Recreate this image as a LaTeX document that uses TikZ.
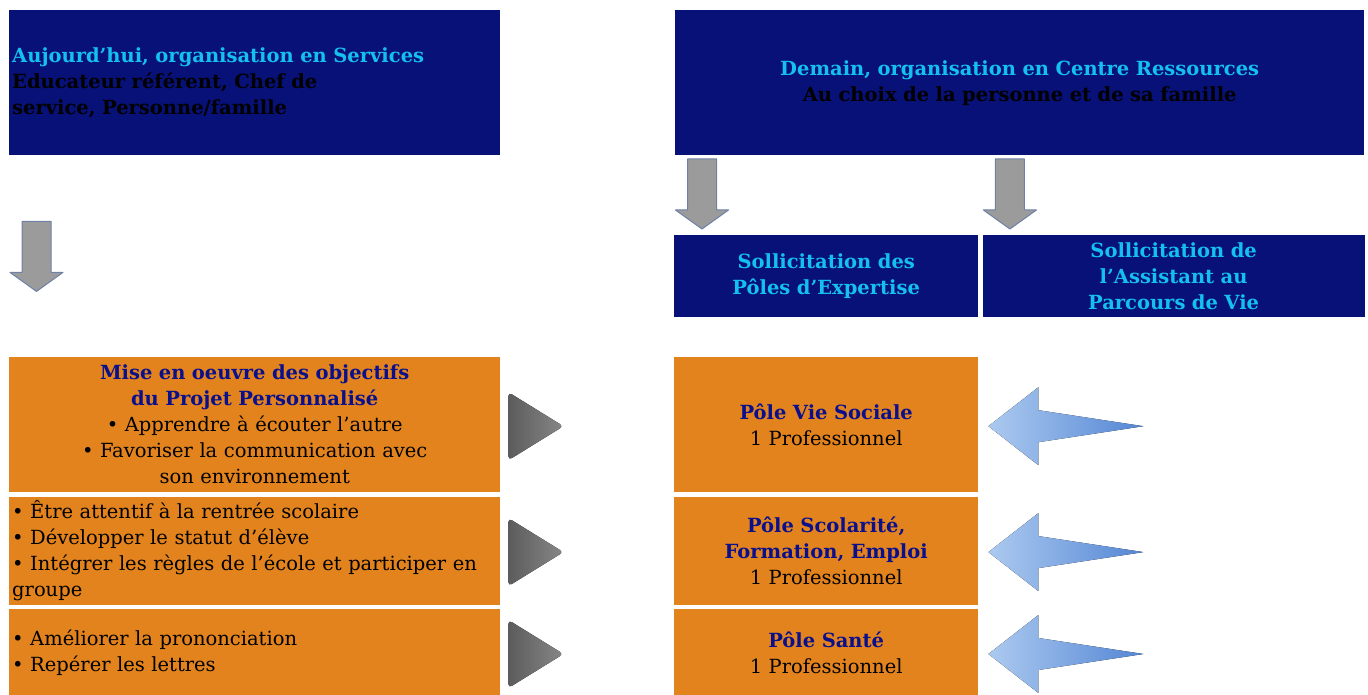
\documentclass[tikz,border=0pt]{standalone}
\usepackage{fontspec}
\setmainfont{DejaVu Serif}
\usetikzlibrary{positioning,calc}

\definecolor{navyblue}{RGB}{8,17,120}
\definecolor{titlecyan}{RGB}{20,192,242}
\definecolor{boxorange}{RGB}{226,131,30}
\definecolor{poleblue}{RGB}{10,16,140}
\definecolor{arrowgrey}{RGB}{155,155,155}
\definecolor{arrowedge}{RGB}{110,128,165}
\definecolor{tridark}{RGB}{92,92,92}
\definecolor{trilight}{RGB}{135,135,135}
\definecolor{lightblue}{RGB}{172,202,240}
\definecolor{midblue}{RGB}{84,134,212}

\begin{document}
\begin{tikzpicture}[x=1pt, y=-1pt,
    every node/.style={font=\fontsize{19.5}{26}\selectfont, inner xsep=3pt, inner ysep=0pt},
    navybox/.style={rectangle, fill=navyblue, anchor=north west, font=\fontsize{19.5}{26}\selectfont\bfseries},
    orangebox/.style={rectangle, fill=boxorange, anchor=north west},
    downarrow/.style={fill=arrowgrey, draw=arrowedge, line width=1pt, line join=round},
    playarrow/.style={left color=tridark, right color=trilight, rounded corners=4pt},
    backarrow/.style={left color=lightblue, right color=midblue}
]
\useasboundingbox (0,0) rectangle (1368,695);

% Header boxes
\node[navybox, text width=485pt, minimum height=145pt, align=left] (today) at (9,10)
    {{\color{titlecyan}Aujourd’hui, organisation en Services}\\Educateur référent, Chef de\\service, Personne/famille};
\node[navybox, text width=683pt, minimum height=145pt, align=center] (tomorrow) at (675,10)
    {{\color{titlecyan}Demain, organisation en Centre Ressources}\\Au choix de la personne et de sa famille};

\node[navybox, text width=298pt, minimum height=82pt, align=center, text=titlecyan] (askpoles) at (674,235)
    {Sollicitation des\\Pôles d’Expertise};
\node[navybox, text width=376pt, minimum height=82pt, align=center, text=titlecyan, right=4pt of askpoles] (askassist)
    {Sollicitation de\\l’Assistant au\\Parcours de Vie};

% Objectives (left column)
\node[orangebox, text width=485pt, minimum height=135pt, align=center] (goals1) at (9,357)
    {{\color{poleblue}\bfseries Mise en oeuvre des objectifs\\du Projet Personnalisé}\\• Apprendre à écouter l’autre\\• Favoriser la communication avec\\son environnement};
\node[orangebox, text width=485pt, minimum height=108pt, align=left, below=4pt of goals1] (goals2)
    {• Être attentif à la rentrée scolaire\\• Développer le statut d’élève\\• Intégrer les règles de l’école et participer en groupe};
\node[orangebox, text width=485pt, minimum height=87pt, align=left, below=4pt of goals2] (goals3)
    {• Améliorer la prononciation\\• Repérer les lettres};

% Poles (right column)
\node[orangebox, text width=298pt, minimum height=135pt, align=center] (pole1) at (674,357)
    {{\color{poleblue}\bfseries Pôle Vie Sociale}\\1 Professionnel};
\node[orangebox, text width=298pt, minimum height=108pt, align=center, below=4pt of pole1] (pole2)
    {{\color{poleblue}\bfseries Pôle Scolarité,\\Formation, Emploi}\\1 Professionnel};
\node[orangebox, text width=298pt, minimum height=87pt, align=center, below=4pt of pole2] (pole3)
    {{\color{poleblue}\bfseries Pôle Santé}\\1 Professionnel};

% Grey down arrows
\draw[downarrow] ($(today.south west)+(13,66)$) -- ++(29,0) -- ++(0,51) -- ++(12,0) -- ++(-26.5,19) -- ++(-26.5,-19) -- ++(12,0) -- cycle;
\draw[downarrow] ($(askpoles.north west)+(13.5,-76)$) -- ++(29,0) -- ++(0,51) -- ++(12,0) -- ++(-26.5,19) -- ++(-26.5,-19) -- ++(12,0) -- cycle;
\draw[downarrow] ($(askassist.north west)+(13,-76)$) -- ++(29,0) -- ++(0,51) -- ++(12,0) -- ++(-26.5,19) -- ++(-26.5,-19) -- ++(12,0) -- cycle;

% Triangles between columns
\fill[playarrow] ($(goals1.east)+(8,-32.5)$) -- ++(55,34) -- ++(-55,34) -- cycle;
\fill[playarrow] ($(goals2.east)+(8,-32.5)$) -- ++(55,34) -- ++(-55,34) -- cycle;
\fill[playarrow] ($(goals3.east)+(8,-32.5)$) -- ++(55,34) -- ++(-55,34) -- cycle;

% Blue arrows pointing to the poles
\fill[backarrow] ($(pole1.east)+(10,1.5)$) -- ++(50,-39) -- ++(0,23) -- ++(105,16) -- ++(-105,16) -- ++(0,23) -- cycle;
\fill[backarrow] ($(pole2.east)+(10,1.5)$) -- ++(50,-39) -- ++(0,23) -- ++(105,16) -- ++(-105,16) -- ++(0,23) -- cycle;
\fill[backarrow] ($(pole3.east)+(10,1.5)$) -- ++(50,-39) -- ++(0,23) -- ++(105,16) -- ++(-105,16) -- ++(0,23) -- cycle;

\end{tikzpicture}
\end{document}
